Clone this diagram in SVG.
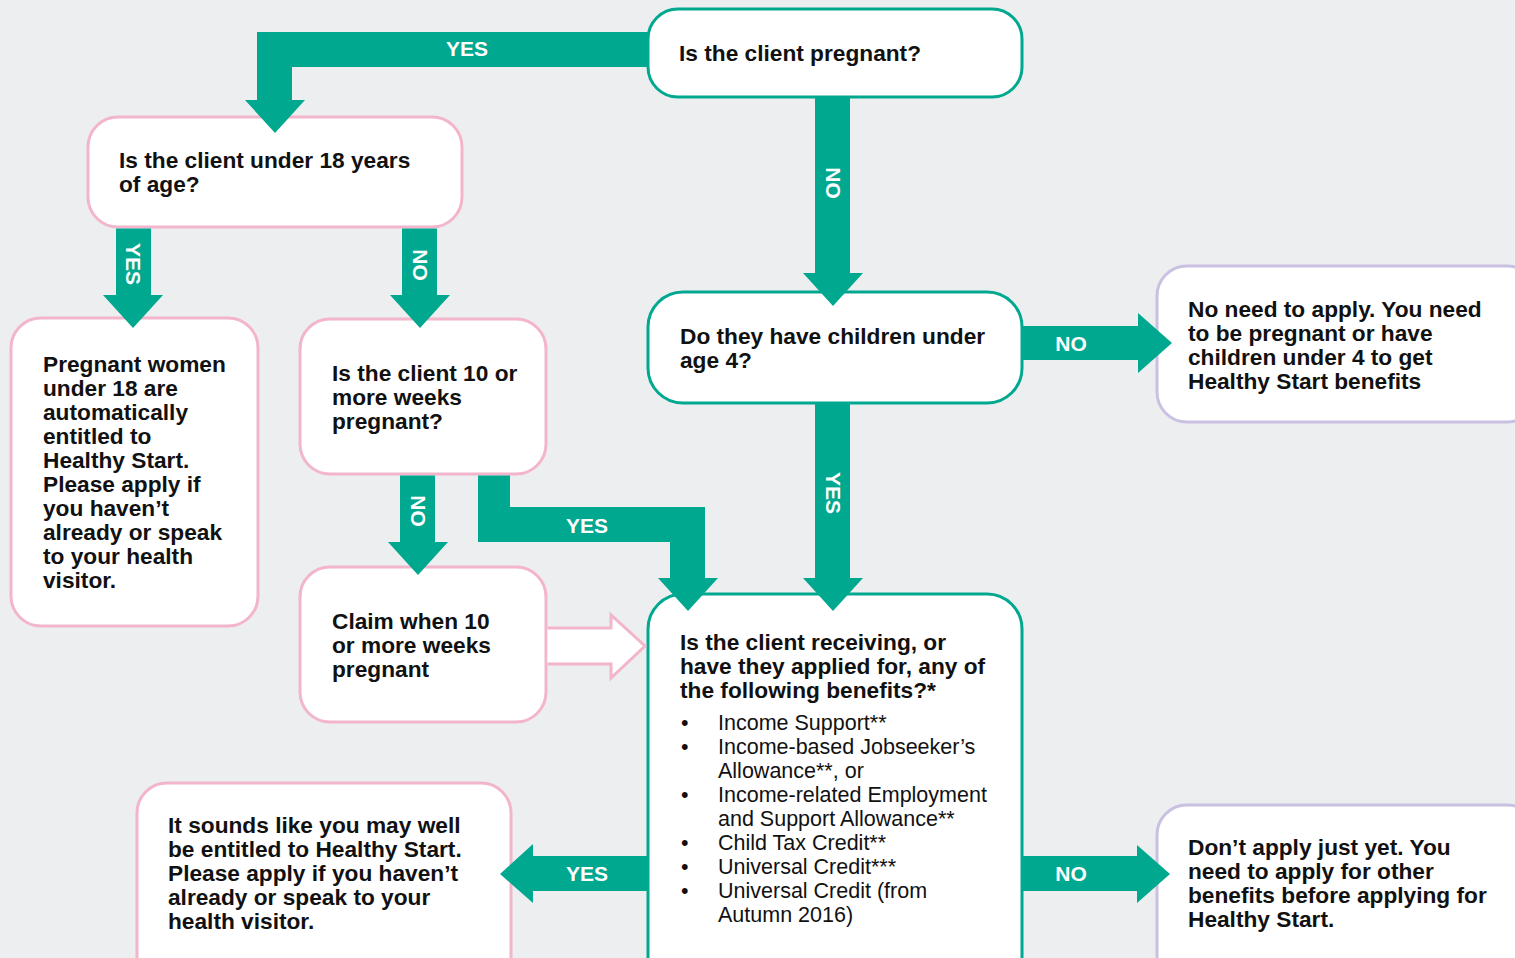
<svg xmlns="http://www.w3.org/2000/svg" width="1515" height="958" viewBox="0 0 1515 958">
<style>
.bg{fill:#ECEEF0}
.box{fill:#fff;stroke-width:3}
.teal{stroke:#00A88F}
.pink{stroke:#F2B5CB}
.lav{stroke:#C9C0E2}
.arr{fill:#00A88F}
.t{font-family:"Liberation Sans",Arial,sans-serif;font-weight:bold;font-size:22.7px;fill:#111}
.r{font-family:"Liberation Sans",Arial,sans-serif;font-size:21.5px;fill:#111}
.lbl{font-family:"Liberation Sans",Arial,sans-serif;font-weight:bold;font-size:21px;fill:#fff;text-anchor:middle;dominant-baseline:central}
</style>
<rect class="bg" x="0" y="0" width="1515" height="958"/>
<g id="n-pregnant">
  <rect class="box teal" x="648" y="9" width="374" height="88" rx="30"/>
  <text class="t" x="679" y="61">Is the client pregnant?</text>
</g>
<g id="n-under18">
  <rect class="box pink" x="88" y="117" width="374" height="110" rx="30"/>
  <text class="t" x="119" y="168">Is the client under 18 years</text>
  <text class="t" x="119" y="192">of age?</text>
</g>
<g id="n-children">
  <rect class="box teal" x="648" y="292" width="374" height="111" rx="35"/>
  <text class="t" x="680" y="344">Do they have children under</text>
  <text class="t" x="680" y="368">age 4?</text>
</g>
<g id="n-noneed">
  <rect class="box lav" x="1157" y="266" width="380" height="156" rx="30"/>
  <text class="t" x="1188" y="317">No need to apply. You need</text>
  <text class="t" x="1188" y="341">to be pregnant or have</text>
  <text class="t" x="1188" y="365">children under 4 to get</text>
  <text class="t" x="1188" y="389">Healthy Start benefits</text>
</g>
<g id="n-under18yes">
  <rect class="box pink" x="11" y="318" width="247" height="308" rx="30"/>
  <text class="t" x="43" y="372">Pregnant women</text>
  <text class="t" x="43" y="396">under 18 are</text>
  <text class="t" x="43" y="420">automatically</text>
  <text class="t" x="43" y="444">entitled to</text>
  <text class="t" x="43" y="468">Healthy Start.</text>
  <text class="t" x="43" y="492">Please apply if</text>
  <text class="t" x="43" y="516">you haven’t</text>
  <text class="t" x="43" y="540">already or speak</text>
  <text class="t" x="43" y="564">to your health</text>
  <text class="t" x="43" y="588">visitor.</text>
</g>
<g id="n-10weeks">
  <rect class="box pink" x="300" y="319" width="246" height="155" rx="30"/>
  <text class="t" x="332" y="381">Is the client 10 or</text>
  <text class="t" x="332" y="405">more weeks</text>
  <text class="t" x="332" y="429">pregnant?</text>
</g>
<g id="n-claim">
  <rect class="box pink" x="300" y="567" width="246" height="155" rx="30"/>
  <text class="t" x="332" y="629">Claim when 10</text>
  <text class="t" x="332" y="653">or more weeks</text>
  <text class="t" x="332" y="677">pregnant</text>
</g>
<g id="n-benefits">
  <rect class="box teal" x="648" y="594" width="374" height="400" rx="35"/>
  <text class="t" x="680" y="650">Is the client receiving, or</text>
  <text class="t" x="680" y="674">have they applied for, any of</text>
  <text class="t" x="680" y="698">the following benefits?*</text>
  <g class="r">
    <text x="681" y="730">•</text><text x="718" y="730">Income Support**</text>
    <text x="681" y="754">•</text><text x="718" y="754">Income-based Jobseeker’s</text>
    <text x="718" y="778">Allowance**, or</text>
    <text x="681" y="802">•</text><text x="718" y="802">Income-related Employment</text>
    <text x="718" y="826">and Support Allowance**</text>
    <text x="681" y="850">•</text><text x="718" y="850">Child Tax Credit**</text>
    <text x="681" y="874">•</text><text x="718" y="874">Universal Credit***</text>
    <text x="681" y="898">•</text><text x="718" y="898">Universal Credit (from</text>
    <text x="718" y="922">Autumn 2016)</text>
  </g>
</g>
<g id="n-entitled">
  <rect class="box pink" x="137" y="783" width="374" height="210" rx="30"/>
  <text class="t" x="168" y="833">It sounds like you may well</text>
  <text class="t" x="168" y="857">be entitled to Healthy Start.</text>
  <text class="t" x="168" y="881">Please apply if you haven’t</text>
  <text class="t" x="168" y="905">already or speak to your</text>
  <text class="t" x="168" y="929">health visitor.</text>
</g>
<g id="n-dontapply">
  <rect class="box lav" x="1157" y="805" width="380" height="190" rx="30"/>
  <text class="t" x="1188" y="855">Don’t apply just yet. You</text>
  <text class="t" x="1188" y="879">need to apply for other</text>
  <text class="t" x="1188" y="903">benefits before applying for</text>
  <text class="t" x="1188" y="927">Healthy Start.</text>
</g>
<g id="connectors">
  <path class="arr" d="M648,32 H257 V100 H245 L275,133 L305,100 H292 V67 H648 Z"/>
  <text class="lbl" x="467" y="48">YES</text>
  <path class="arr" d="M815,98 V273 H803 L833,306 L863,273 H850 V98 Z"/>
  <text class="lbl" transform="translate(833,183) rotate(90)">NO</text>
  <path class="arr" d="M116,228.5 V295 H103 L133,328 L163,295 H151 V228.5 Z"/>
  <text class="lbl" transform="translate(133,264) rotate(90)">YES</text>
  <path class="arr" d="M402,228.5 V295 H390 L420,328 L450,295 H437 V228.5 Z"/>
  <text class="lbl" transform="translate(420,265) rotate(90)">NO</text>
  <path class="arr" d="M400,475.5 V542 H388 L418,575 L448,542 H435 V475.5 Z"/>
  <text class="lbl" transform="translate(418,511) rotate(90)">NO</text>
  <path class="arr" d="M478,475.5 V542 H670 V578 H658 L688,611 L718,578 H705 V507 H510 V475.5 Z"/>
  <text class="lbl" x="587" y="525">YES</text>
  <path class="arr" d="M815,404 V578 H803 L833,611 L863,578 H850 V404 Z"/>
  <text class="lbl" transform="translate(833,493) rotate(90)">YES</text>
  <path class="arr" d="M1022,326 H1138 V313 L1172,343 L1138,373 V360 H1022 Z"/>
  <text class="lbl" x="1071" y="343">NO</text>
  <path class="arr" d="M1022,856 H1137 V845 L1170,874 L1137,903 V891 H1022 Z"/>
  <text class="lbl" x="1071" y="873">NO</text>
  <path class="arr" d="M648,856 H533 V844 L500,874 L533,903 V891 H648 Z"/>
  <text class="lbl" x="587" y="873">YES</text>
  <path d="M547.5,628 H611 V615 L645,646 L611,678 V664 H547.5" fill="#fff" stroke="#F2B5CB" stroke-width="3" stroke-linejoin="miter"/>
</g>
</svg>
